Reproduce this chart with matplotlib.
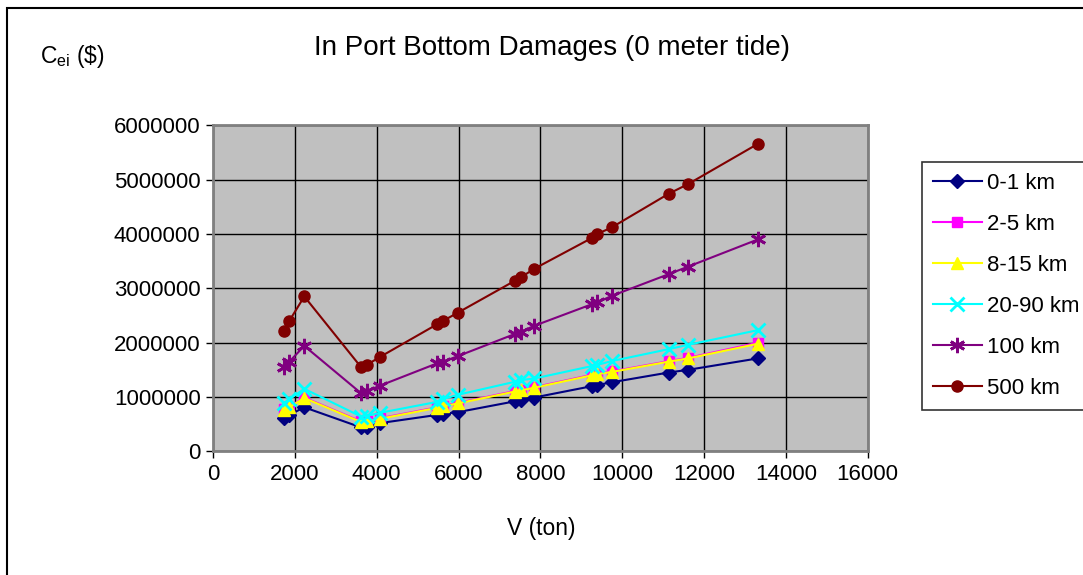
import matplotlib
matplotlib.use("Agg")
import matplotlib.pyplot as plt
from matplotlib.patches import Rectangle

plt.rcParams['font.family'] = ['Liberation Sans', 'DejaVu Sans']
plt.rcParams['mathtext.default'] = 'regular'

# ---- data ----
volume_ton = [1742, 1865, 2231, 3617, 3756, 4089, 5481, 5621, 5980,
              7380, 7520, 7852, 9269, 9391, 9743, 11136, 11615, 13319]

km_0_1 = [0.62, 0.67, 0.81, 0.44, 0.45, 0.52, 0.67, 0.69, 0.72,
          0.92, 0.95, 0.99, 1.20, 1.22, 1.27, 1.45, 1.50, 1.71]
km_2_5 = [0.77, 0.82, 0.99, 0.55, 0.56, 0.61, 0.81, 0.84, 0.89,
          1.11, 1.13, 1.18, 1.41, 1.43, 1.47, 1.66, 1.72, 2.00]
km_8_15 = [0.76, 0.81, 0.98, 0.54, 0.55, 0.60, 0.80, 0.83, 0.88,
           1.10, 1.12, 1.17, 1.40, 1.42, 1.46, 1.65, 1.71, 1.98]
km_20_90 = [0.88, 0.96, 1.15, 0.64, 0.65, 0.71, 0.91, 0.96, 1.04,
            1.28, 1.31, 1.34, 1.57, 1.59, 1.66, 1.88, 1.96, 2.23]
km_100 = [1.55, 1.65, 1.94, 1.07, 1.11, 1.21, 1.62, 1.65, 1.75,
          2.16, 2.20, 2.31, 2.71, 2.74, 2.86, 3.26, 3.40, 3.90]
km_500 = [2.22, 2.40, 2.85, 1.55, 1.59, 1.74, 2.34, 2.40, 2.55,
          3.14, 3.20, 3.36, 3.93, 4.00, 4.12, 4.74, 4.92, 5.66]

series_labels = ['0-1 km', '2-5 km', '8-15 km', '20-90 km', '100 km', '500 km']
series_values = [km_0_1, km_2_5, km_8_15, km_20_90, km_100, km_500]

x_ticks = [0, 2000, 4000, 6000, 8000, 10000, 12000, 14000, 16000]
y_ticks = [0, 1000000, 2000000, 3000000, 4000000, 5000000, 6000000]

colors = ['#000080', '#FF00FF', '#FFFF00', '#00FFFF', '#800080', '#800000']
markers = ['D', 's', '^', 'x', (6, 2, 0), 'o']
msizes = [7, 7, 9, 10, 11, 8]

W, H = 1083, 575
fig = plt.figure(figsize=(W / 100, H / 100), dpi=100)

# outer chart border (top/left visible)
fig.patches.append(Rectangle((7 / W, -0.05), 1.2, 1 - 8 / H + 0.05,
                             transform=fig.transFigure, fill=False,
                             edgecolor='black', linewidth=1.5))

ax = fig.add_axes([213 / W, 1 - 451.3 / H, (867.7 - 213) / W, (451.3 - 125.3) / H])
ax.set_facecolor('#C0C0C0')

for lab, vals, c, m, ms in zip(series_labels, series_values, colors, markers, msizes):
    yv = [v * 1e6 for v in vals]
    ax.plot(volume_ton, yv, color=c, marker=m, markersize=ms, linewidth=1.5,
            markeredgewidth=2 if m in ('x', (6, 2, 0)) else 1,
            markeredgecolor=c, markerfacecolor=c, label=lab, clip_on=False)

ax.set_xlim(0, 16000)
ax.set_ylim(0, 6000000)
ax.set_xticks(x_ticks)
ax.set_yticks(y_ticks)
ax.set_xticklabels([str(v) for v in x_ticks])
ax.set_yticklabels([str(v) for v in y_ticks])
ax.grid(True, color='black', linewidth=1.0)
ax.set_axisbelow(True)
for s in ax.spines.values():
    s.set_color('#808080')
    s.set_linewidth(2)
ax.tick_params(axis='both', direction='out', length=5, width=1, color='black',
               labelsize=16, pad=4)

fig.text(552 / W, 1 - 48 / H, 'In Port Bottom Damages (0 meter tide)',
         ha='center', va='center', fontsize=20)
fig.text(40 / W, 1 - 57 / H, r'C$_{ei}$ (\$)', ha='left', va='center', fontsize=16.5)
fig.text(541 / W, 1 - 528 / H, 'V (ton)', ha='center', va='center', fontsize=16.5)

leg = fig.legend(loc='upper left', bbox_to_anchor=(921.7 / W, 1 - 161.7 / H),
                 bbox_transform=fig.transFigure, fontsize=16, frameon=True,
                 fancybox=False, edgecolor='black', handlelength=2.2,
                 handletextpad=0.25, labelspacing=0.9, borderpad=0.5,
                 borderaxespad=0)
leg.get_frame().set_linewidth(1.2)

fig.savefig('out.png', dpi=100, facecolor='white')
